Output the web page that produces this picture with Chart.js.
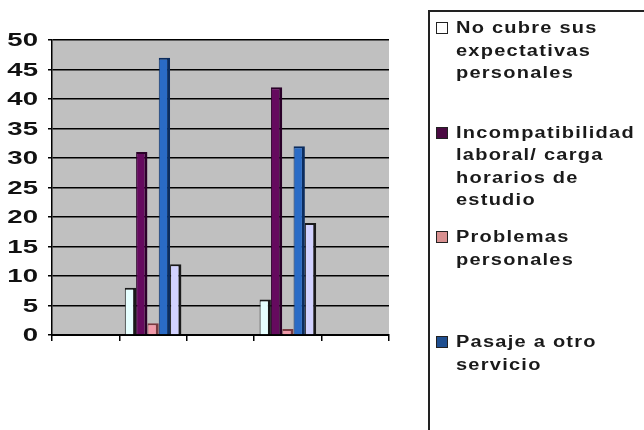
<!DOCTYPE html>
<html>
<head>
<meta charset="utf-8">
<script src="https://cdn.jsdelivr.net/npm/chart.js@4"></script>
<style>
  body { margin: 0; background: #fff; }
  #wrap { position: relative; width: 644px; height: 430px; overflow: hidden; }
  #legend {
    position: absolute; left: 428px; top: 10px; width: 240px; height: 440px;
    border: 2px solid #222; border-right: none; box-sizing: border-box;
    font-family: "Liberation Sans", Arial, sans-serif; font-weight: bold;
    font-size: 16px; letter-spacing: 1px; color: #1a1a1a; line-height: 22.5px;
  }
  .item { position: absolute; left: 6px; }
  .swatch {
    position: absolute; left: 0; top: 5px; width: 10px; height: 10px;
    border: 1px solid #222;
  }
  .txt { position: absolute; left: 20px; top: 0; white-space: nowrap; transform: scaleX(1.25); transform-origin: 0 0; }
</style>
</head>
<body>
<div id="wrap">
  <canvas id="myBarChart" width="644" height="430"></canvas>
  <div id="legend"></div>
</div>
<script>
// categorias (sin etiqueta visible en el original)
const categories = ['', '', '', '', ''];

// textos de la leyenda, linea por linea
const seriesLabels = [
    ['No cubre sus', 'expectativas', 'personales'],
    ['Incompatibilidad', 'laboral/ carga', 'horarios de', 'estudio'],
    ['Problemas', 'personales'],
    ['Pasaje a otro', 'servicio'],
    ['Otros']
];

// valores de cada serie
const noCubre = [null, 8, null, 6, null];
const incompatibilidad = [null, 31, null, 42, null];
const problemas = [null, 2, null, 1, null];
const pasaje = [null, 47, null, 32, null];
const otros = [null, 12, null, 19, null];

const fills = ['#e6ffff', '#650a5e', '#f29aaa', '#2a6bc6', '#d2d2ff'];
const edges = ['#1a1a1a', '#2a0028', '#7a3a40', '#0b2c5e', '#1a1a1a'];
const swatches = ['#ffffff', '#4a0a42', '#d89090', '#1f4f90', '#d2d2ff'];

const values = [noCubre, incompatibilidad, problemas, pasaje, otros];

// fondo gris del area de trazado
const plotBg = {
    id: 'plotBg',
    beforeDraw(chart) {
        const { ctx, chartArea } = chart;
        ctx.save();
        ctx.fillStyle = '#c0c0c0';
        ctx.fillRect(chartArea.left, chartArea.top, chartArea.right - chartArea.left, chartArea.bottom - chartArea.top);
        ctx.restore();
    }
};

// etiquetas del eje Y estiradas a lo ancho, como en el original
const wideTicks = {
    id: 'wideTicks',
    afterDraw(chart) {
        const { ctx } = chart;
        const y = chart.scales.y;
        y.ticks.forEach(t => {
            ctx.save();
            ctx.translate(y.right - 14, y.getPixelForValue(t.value));
            ctx.scale(1.45, 1);
            ctx.font = 'bold 19px "Liberation Sans"';
            ctx.fillStyle = '#111';
            ctx.textAlign = 'right';
            ctx.textBaseline = 'middle';
            ctx.fillText(String(t.value), 0, 1);
            ctx.restore();
        });
    }
};

const ctxBar = document.getElementById('myBarChart').getContext('2d');
const myBarChart = new Chart(ctxBar, {
    type: 'bar',
    data: {
        labels: categories,
        datasets: values.map((v, i) => ({
            label: seriesLabels[i].join(' '),
            data: v,
            backgroundColor: fills[i],
            borderColor: edges[i],
            borderWidth: { top: 2, right: 3, left: 1, bottom: 0 }
        }))
    },
    options: {
        responsive: false,
        animation: false,
        layout: { padding: { left: 0, top: 40, right: 255, bottom: 0 } },
        datasets: { bar: { categoryPercentage: 0.84, barPercentage: 1 } },
        plugins: { legend: { display: false }, tooltip: { enabled: false } },
        scales: {
            x: {
                afterFit: s => { s.height = 95; },
                grid: { offset: true, drawOnChartArea: false, tickLength: 6, color: '#000', lineWidth: 1.5 },
                border: { color: '#000', width: 2 },
                ticks: { display: true, font: { size: 1 } }
            },
            y: {
                min: 0,
                max: 50,
                afterFit: s => { s.width = 52; },
                ticks: { stepSize: 5, display: false },
                grid: { color: '#000', lineWidth: 1.5, tickLength: 4 },
                border: { color: '#000', width: 1.5 }
            }
        }
    },
    plugins: [plotBg, wideTicks]
});

// leyenda en HTML a partir de los datasets
const legendBox = document.getElementById('legend');
myBarChart.data.datasets.forEach((ds, i) => {
    const item = document.createElement('div');
    item.className = 'item';
    item.style.top = (5 + i * 104.7) + 'px';
    item.innerHTML = '<span class="swatch" style="background:' + swatches[i] + '"></span>' +
        '<span class="txt">' + seriesLabels[i].join('<br>') + '</span>';
    legendBox.appendChild(item);
});
</script>
</body>
</html>
